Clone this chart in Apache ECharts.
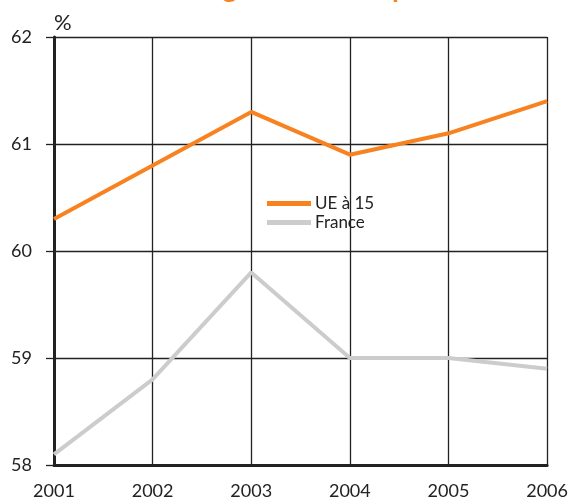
<!DOCTYPE html>
<html><head><meta charset="utf-8">
<script src="https://cdn.jsdelivr.net/npm/echarts@6/dist/echarts.min.js"></script>
<style>html,body{margin:0;padding:0;background:#fff}#c{width:571px;height:502px}</style>
</head><body><div id="c"></div>
<script>
const years = ['2001','2002','2003','2004','2005','2006'];
const ueValues = [60.3, 60.8, 61.3, 60.9, 61.1, 61.4];
const franceValues = [58.1, 58.8, 59.8, 59.0, 59.0, 58.9];
const seriesNames = ['UE à 15', 'France'];
const titleText = "Taux global de l'emploi";

const chart = echarts.init(document.getElementById('c'));
const font = 'Lato, "Open Sans", sans-serif';
chart.setOption({
  animation: false,
  title: { text: titleText, left: 152, top: -31, textStyle: { color: '#F7821F', fontSize: 28, fontWeight: 'bold', fontFamily: font } },
  grid: { left: 54, right: 22, top: 37, bottom: 37 },
  legend: {
    orient: 'vertical', left: 262, top: 190, itemWidth: 44, itemHeight: 5, itemGap: 2,
    icon: 'rect', data: seriesNames,
    textStyle: { fontSize: 17, color: '#222', fontFamily: font, padding: [0,0,0,-1] }
  },
  xAxis: {
    type: 'category', boundaryGap: false, data: years,
    axisLine: { lineStyle: { color: '#222', width: 3 } },
    axisTick: { show: false },
    axisLabel: { fontSize: 18, color: '#222', fontFamily: font, margin: 17 },
    splitLine: { show: true, lineStyle: { color: '#222', width: 1.3 } }
  },
  yAxis: {
    type: 'value', min: 58, max: 62, interval: 1,
    name: '%', nameLocation: 'end', nameGap: 3,
    nameTextStyle: { fontSize: 22, color: '#222', fontFamily: font, align: 'left', padding: [0,0,0,0] },
    axisLine: { show: true, lineStyle: { color: '#222', width: 3 } },
    axisTick: { show: true, length: 8, lineStyle: { color: '#222', width: 1.3 } },
    axisLabel: { fontSize: 18, color: '#222', fontFamily: font, margin: 22 },
    splitLine: { show: true, lineStyle: { color: '#222', width: 1.3 } }
  },
  series: [
    { name: seriesNames[0], type: 'line', data: ueValues, showSymbol: false, symbol: 'none',
      lineStyle: { color: '#F7821F', width: 4 }, itemStyle: { color: '#F7821F' } },
    { name: seriesNames[1], type: 'line', data: franceValues, showSymbol: false, symbol: 'none',
      lineStyle: { color: '#CCCCCC', width: 4 }, itemStyle: { color: '#CCCCCC' } }
  ]
});
</script></body></html>
